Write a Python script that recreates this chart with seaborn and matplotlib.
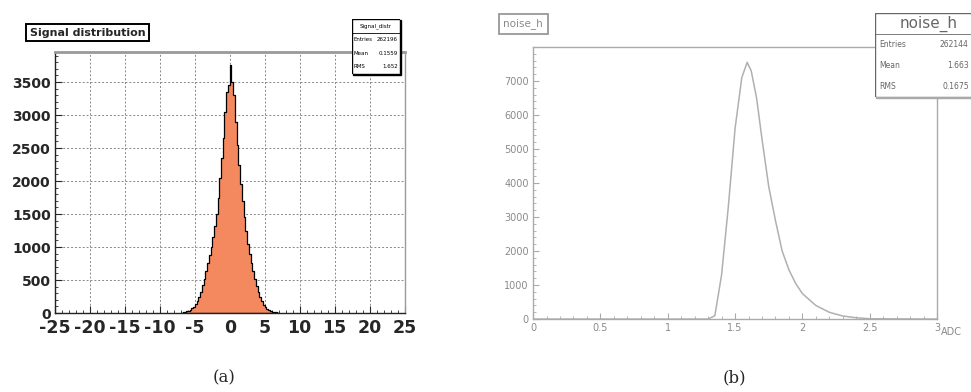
import matplotlib
matplotlib.use("Agg")
from matplotlib import pyplot as plt
from matplotlib.patches import Rectangle
from matplotlib.ticker import MultipleLocator
import seaborn as sns
import numpy as np
import pandas as pd

# --- (a) signal distribution, bin width 0.25 from -7 to 7 ---
signal_lo, signal_hi, signal_bw = -7.0, 7.0, 0.25
signal_counts = [5, 10, 15, 25, 35, 50, 70, 95, 130, 180, 240, 320, 420, 520,
                 640, 760, 880, 1000, 1150, 1320, 1500, 1750, 2050, 2350, 2650, 3050, 3350, 3450,
                 3760, 3500, 3300, 2900, 2550, 2250, 1950, 1700, 1450, 1250, 1050, 900, 760, 640,
                 520, 410, 320, 240, 175, 125, 90, 65, 45, 30, 20, 12, 8, 4]
signal_stats = [("Entries", "262196"), ("Mean", "0.1559"), ("RMS", "1.652")]

# --- (b) noise distribution ---
noise_x = [0.0, 1.30, 1.35, 1.40, 1.45, 1.50, 1.55, 1.59, 1.62, 1.66, 1.70, 1.75, 1.80,
           1.85, 1.90, 1.95, 2.00, 2.10, 2.20, 2.30, 2.40, 2.50, 3.0]
noise_y = [0, 0, 100, 1300, 3300, 5600, 7100, 7550, 7300, 6500, 5300, 3900, 2900,
           2000, 1450, 1050, 750, 400, 200, 90, 40, 10, 0]
noise_stats = [("Entries", "262144"), ("Mean", "1.663"), ("RMS", "0.1675")]

sns.set_style("ticks")
plt.rcParams['font.family'] = ['DejaVu Sans']

fig = plt.figure(figsize=(9.71, 3.92), dpi=100)


def stats_box(rect, title, rows, title_size, row_size, color, shadow, val_x=0.97, sh=0.03):
    bx = fig.add_axes(rect)
    bx.set_xlim(0, 1)
    bx.set_ylim(0, 1)
    bx.axis("off")
    bx.add_patch(Rectangle((sh, -sh), 1.0, 1.0, color=shadow, zorder=1, clip_on=False))
    bx.add_patch(Rectangle((0, 0), 1.0, 1.0, facecolor="white", edgecolor=color, lw=1, zorder=2))
    n = len(rows) + 1
    h = 1.0 / n
    bx.plot([0, 1], [1 - h, 1 - h], color=color, lw=0.6, zorder=3)
    bx.text(0.5, 1 - h / 2, title, ha="center", va="center", fontsize=title_size,
            color=color, zorder=4)
    for i, (k, v) in enumerate(rows):
        yy = 1 - h * (i + 1.5)
        bx.text(0.04, yy, k, ha="left", va="center", fontsize=row_size, color=color, zorder=4)
        bx.text(val_x, yy, v, ha="right", va="center", fontsize=row_size, color=color, zorder=4)
    return bx


# ---------- left panel ----------
ax1 = fig.add_axes([0.0566, 0.2015, 0.360, 0.665])
centers = np.arange(signal_lo + signal_bw / 2, signal_hi, signal_bw)
sig_df = pd.DataFrame({"x": centers, "w": signal_counts})
sns.histplot(data=sig_df, x="x", weights="w", binwidth=signal_bw, binrange=(signal_lo, signal_hi),
             element="step", fill=True, color="#f4895f", edgecolor="black", linewidth=0.9,
             alpha=1.0, ax=ax1)
ax1.set_xlim(-25, 25)
ax1.set_ylim(0, 3950)
ax1.xaxis.set_minor_locator(MultipleLocator(1))
ax1.yaxis.set_minor_locator(MultipleLocator(100))
ax1.set_yticks(range(0, 3501, 500))
ax1.grid(True, which="major", color="#888888", linestyle=(0, (2, 2)), linewidth=0.7)
ax1.set_axisbelow(True)
ax1.set_xlabel("")
ax1.set_ylabel("")
ax1.tick_params(axis="x", which="major", labelsize=12.5, length=5, direction="in", pad=4)
ax1.tick_params(axis="y", which="major", labelsize=10, length=5, direction="in", pad=3)
ax1.tick_params(which="minor", length=2.5, direction="in")
ax1.set_xticks(range(-25, 26, 5))
ax1.set_xticklabels([str(t) for t in range(-25, 26, 5)])
for lab in ax1.get_xticklabels() + ax1.get_yticklabels():
    lab.set_fontweight("bold")
for s in ax1.spines.values():
    s.set_color("#222222")
    s.set_linewidth(1.0)
ax1.spines["top"].set_color("#999999")
ax1.spines["top"].set_linewidth(2)
ax1.spines["right"].set_color("#999999")

fig.text(0.090, 0.917, "Signal distribution", ha="center", va="center", fontsize=8,
         fontweight="bold",
         bbox=dict(boxstyle="square,pad=0.35", facecolor="white", edgecolor="black", lw=1.4))
stats_box([0.3625, 0.812, 0.049, 0.14], "Signal_distr", signal_stats, 4, 4, "black", "black")

# ---------- right panel ----------
ax2 = fig.add_axes([0.549, 0.186, 0.416, 0.694])
sns.lineplot(x=noise_x, y=noise_y, color="#b0b0b0", linewidth=1.1, ax=ax2)
ax2.set_xlim(0, 3)
ax2.set_ylim(0, 8000)
ax2.xaxis.set_minor_locator(MultipleLocator(0.1))
ax2.yaxis.set_minor_locator(MultipleLocator(200))
ax2.set_xticks([0, 0.5, 1, 1.5, 2, 2.5, 3])
ax2.set_xticklabels(["0", "0.5", "1", "1.5", "2", "2.5", "3"])
ax2.set_yticks(range(0, 8000, 1000))
ax2.set_yticklabels(["0"] + [str(v) for v in range(1000, 8000, 1000)])
ax2.tick_params(which="major", labelsize=7, length=4, direction="in", colors="#aaaaaa",
                labelcolor="#8a8a8a", pad=3)
ax2.tick_params(which="minor", length=2, direction="in", colors="#aaaaaa")
for s in ax2.spines.values():
    s.set_color("#aaaaaa")
    s.set_linewidth(1.0)
ax2.annotate("ADC", xy=(1.0, 0), xycoords="axes fraction", xytext=(3, -9),
             textcoords="offset points", ha="left", va="center", fontsize=7, color="#8a8a8a")

fig.text(0.539, 0.939, "noise_h", ha="center", va="center", fontsize=7.5, color="#8a8a8a",
         bbox=dict(boxstyle="square,pad=0.45", facecolor="white", edgecolor="#999999", lw=1.3))
stats_box([0.901, 0.752, 0.11, 0.215], "noise_h", noise_stats, 11, 5.5, "#666666", "#aaaaaa",
          val_x=0.88, sh=0.015)

# captions
fig.text(0.231, 0.035, "(a)", ha="center", va="center", fontsize=12, family="DejaVu Serif")
fig.text(0.756, 0.035, "(b)", ha="center", va="center", fontsize=12, family="DejaVu Serif")

fig.savefig("out.png", dpi=100)
